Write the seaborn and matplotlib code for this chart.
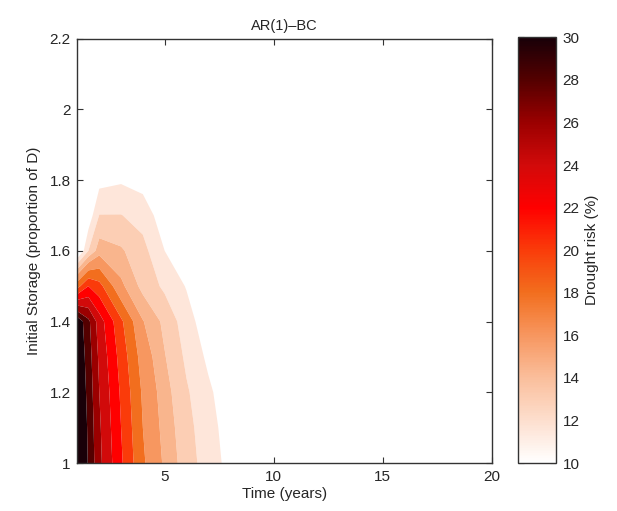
import numpy as np
import matplotlib
matplotlib.use("Agg")
import matplotlib.pyplot as plt
import matplotlib as mpl
import seaborn as sns

# Grid
time_years = [1, 1.5, 2, 3, 4, 5, 6, 7, 8, 9, 20]
storage = [1.0, 1.1, 1.2, 1.3, 1.4, 1.5, 1.6, 1.7, 1.8, 1.9, 2.2]

# Drought risk (%), one row per storage level
risk_grid = [
    [33.0, 29.8, 26.5, 22.3, 18.3, 15.7, 13.7, 12.3, 11.0, 10.0, 4.5],
    [33.0, 29.6, 26.3, 22.0, 18.0, 15.4, 13.5, 12.1, 10.8, 9.8, 4.5],
    [32.5, 29.3, 26.0, 21.7, 17.7, 15.1, 13.2, 11.8, 10.5, 9.5, 4.5],
    [32.0, 29.0, 25.6, 21.2, 17.1, 14.6, 12.7, 11.2, 10.0, 9.0, 4.5],
    [31.5, 28.5, 25.0, 20.4, 16.1, 14.1, 12.2, 10.5, 9.5, 8.5, 4.5],
    [19.3, 22.0, 20.7, 16.4, 14.0, 12.7, 11.4, 10.0, 9.3, 8.5, 4.5],
    [9.5, 13.0, 15.3, 14.7, 13.5, 11.5, 9.7, 8.5, 8.3, 8.0, 4.5],
    [7.5, 10.5, 13.05, 13.05, 12.4, 10.6, 9.0, 8.5, 8.0, 7.5, 4.5],
    [6.5, 8.5, 11.0, 11.3, 10.9, 10.0, 9.0, 8.5, 8.0, 7.5, 4.5],
    [5.5, 6.5, 7.5, 7.5, 7.5, 7.5, 7.5, 7.5, 7.5, 7.0, 4.5],
    [4.5, 4.5, 4.5, 4.5, 4.5, 4.5, 4.5, 4.5, 4.5, 4.5, 4.5],
]

contour_levels = [11.5, 13, 14.5, 16, 18, 20, 22, 24, 26, 28, 30, 40]
cbar_ticks = [10, 12, 14, 16, 18, 20, 22, 24, 26, 28, 30]
x_ticks = [5, 10, 15, 20]
y_ticks = [1, 1.2, 1.4, 1.6, 1.8, 2, 2.2]
y_ticklabels = ['1', '1.2', '1.4', '1.6', '1.8', '2', '2.2']

sns.set_style("ticks")
plt.rcParams['font.family'] = ['Liberation Sans', 'DejaVu Sans']

# White -> peach -> orange -> red -> black, like the original colorbar
anchor_colors = ['#ffffff', '#fddecd', '#fabe9b', '#f7965f', '#f26e1e',
                 '#fa3c0a', '#ff0000', '#d20a0a', '#9b0000', '#550000',
                 '#190008']
risk_cmap = sns.blend_palette(anchor_colors, as_cmap=True)
norm = mpl.colors.Normalize(vmin=10, vmax=30)

fig = plt.figure(figsize=(6.17, 5.11), dpi=100)
ax = fig.add_axes([0.1256, 0.0939, 0.671, 0.8307])
cax = fig.add_axes([0.8395, 0.0939, 0.0611, 0.833])

T, S = np.meshgrid(time_years, storage)
Z = np.array(risk_grid)

# each band takes the colour of its lower level (MATLAB style)
band_colors = [risk_cmap(norm(lv)) for lv in contour_levels[:-1]]
ax.contourf(T, S, Z, levels=contour_levels, colors=band_colors,
            antialiased=True)

ax.set_xlim(1, 20)
ax.set_ylim(1, 2.2)
ax.set_xticks(x_ticks)
ax.set_yticks(y_ticks)
ax.set_yticklabels(y_ticklabels)
ax.tick_params(direction='in', top=True, right=True, labelsize=11,
               length=4, width=0.8, color='#333333', pad=5)
for sp in ax.spines.values():
    sp.set_visible(True)
    sp.set_color('#333333')
    sp.set_linewidth(1.0)

ax.set_title('AR(1)\u2013BC', fontsize=10.5, pad=6)
ax.set_xlabel('Time (years)', fontsize=11, labelpad=2)
ax.set_ylabel('Initial Storage (proportion of D)', fontsize=11, labelpad=6)

# Colorbar
sm = mpl.cm.ScalarMappable(norm=norm, cmap=risk_cmap)
cb = fig.colorbar(sm, cax=cax, ticks=cbar_ticks)
cb.outline.set_edgecolor('#333333')
cb.outline.set_linewidth(1.0)
cax.tick_params(direction='in', left=True, right=True, labelsize=11,
                length=4, width=0.8, color='#333333', pad=5)
cb.set_label('Drought risk (%)', fontsize=11, labelpad=4)

fig.savefig('out.png', dpi=100)
